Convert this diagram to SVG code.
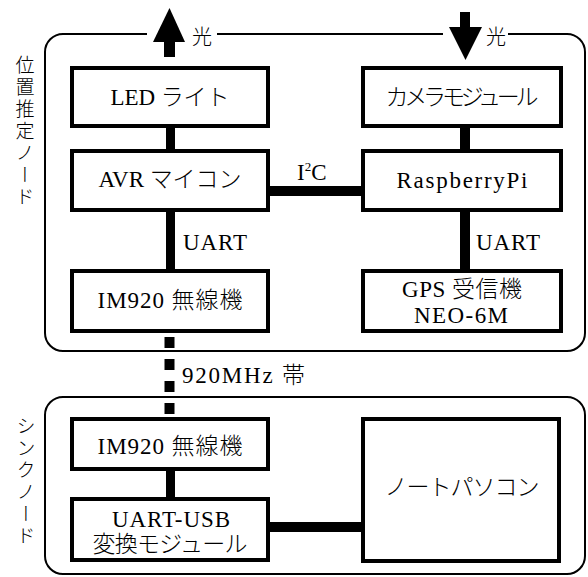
<svg xmlns="http://www.w3.org/2000/svg" width="588" height="577" viewBox="0 0 588 577">
<style>
.frame{fill:none;stroke:#000;stroke-width:2}
.box{fill:#fff;stroke:#000;stroke-width:4}
.t{font-family:'Liberation Serif','Noto Sans CJK JP',serif;font-size:23px;font-weight:300;fill:#000;text-anchor:middle}
.tl{font-family:'Liberation Serif','Noto Sans CJK JP',serif;font-size:23px;font-weight:300;fill:#000}
.hikari{font-family:'Noto Sans CJK JP',sans-serif;font-size:20px;font-weight:300;fill:#000}
.v{font-family:'Noto Sans CJK JP',sans-serif;font-size:19px;font-weight:300;fill:#000;writing-mode:vertical-rl;letter-spacing:3px}
.c{stroke:#000;fill:none}
</style>
<rect width="588" height="577" fill="#fff"/>
<g id="frame-position">
<path class="frame" d="M147,34 H63 A18,18 0 0 0 45,52 V333 A18,18 0 0 0 63,351 H567 A18,18 0 0 0 585,333 V52 A18,18 0 0 0 567,34 H508 M443,34 H217"/>
<text class="v" x="25" y="55">位置推定ノード</text>
</g>
<g id="frame-sink">
<rect class="frame" x="45" y="397" width="540" height="177" rx="18" ry="18"/>
<text class="v" x="26" y="416">シンクノード</text>
</g>
<g id="connectors">
<line class="c" stroke-width="9" x1="170.5" y1="128" x2="170.5" y2="149"/>
<line class="c" stroke-width="10" x1="465" y1="128" x2="465" y2="149"/>
<line class="c" stroke-width="10" x1="270" y1="191" x2="361" y2="191"/>
<line class="c" stroke-width="9" x1="170.5" y1="212" x2="170.5" y2="269"/>
<line class="c" stroke-width="10" x1="465" y1="212" x2="465" y2="269"/>
<line class="c" stroke-width="10" x1="169.5" y1="337" x2="169.5" y2="414" stroke-dasharray="11 11"/>
<line class="c" stroke-width="9" x1="170.5" y1="471" x2="170.5" y2="497"/>
<line class="c" stroke-width="10" x1="270" y1="527" x2="361" y2="527"/>
<text class="tl" x="297" y="180">I<tspan font-size="13" dy="-9">2</tspan><tspan dy="9">C</tspan></text>
<text class="tl" x="183" y="250" textLength="64" lengthAdjust="spacing">UART</text>
<text class="tl" x="476" y="250" textLength="64" lengthAdjust="spacing">UART</text>
<text class="tl" x="182" y="383" textLength="123" lengthAdjust="spacing">920MHz 帯</text>
</g>
<g id="light-out">
<rect x="164" y="41" width="11" height="16" fill="#000"/>
<polygon points="153,42 185,42 169.5,8" fill="#000"/>
<text class="hikari" x="192" y="44">光</text>
</g>
<g id="light-in">
<rect x="460" y="12" width="10" height="16" fill="#000"/>
<polygon points="449,27 482,27 465.5,60" fill="#000"/>
<text class="hikari" x="486" y="44">光</text>
</g>
<g id="led">
<rect class="box" x="72" y="68" width="196" height="58"/>
<text class="t" x="170" y="105" textLength="119" lengthAdjust="spacing">LED ライト</text>
</g>
<g id="avr">
<rect class="box" x="72" y="151" width="196" height="59"/>
<text class="t" x="170" y="187" textLength="143" lengthAdjust="spacing">AVR マイコン</text>
</g>
<g id="camera">
<rect class="box" x="363" y="68" width="198" height="58"/>
<text class="t" x="462" y="105" textLength="153" lengthAdjust="spacing">カメラモジュール</text>
</g>
<g id="raspberrypi">
<rect class="box" x="363" y="151" width="198" height="59"/>
<text class="t" x="462" y="188" textLength="131" lengthAdjust="spacing">RaspberryPi</text>
</g>
<g id="im920-a">
<rect class="box" x="72" y="271" width="196" height="60"/>
<text class="t" x="170" y="308" textLength="145" lengthAdjust="spacing">IM920 無線機</text>
</g>
<g id="gps">
<rect class="box" x="363" y="271" width="198" height="60"/>
<text class="t" x="462" y="297" textLength="120" lengthAdjust="spacing">GPS 受信機</text>
<text class="t" x="461" y="323" textLength="94" lengthAdjust="spacing">NEO-6M</text>
</g>
<g id="im920-b">
<rect class="box" x="72" y="419" width="196" height="50"/>
<text class="t" x="170" y="454" textLength="145" lengthAdjust="spacing">IM920 無線機</text>
</g>
<g id="uart-usb">
<rect class="box" x="72" y="499" width="196" height="61"/>
<text class="t" x="171" y="527" textLength="118" lengthAdjust="spacing">UART-USB</text>
<text class="t" x="170" y="552" textLength="155" lengthAdjust="spacing">変換モジュール</text>
</g>
<g id="notebook">
<rect class="box" x="363" y="419" width="196" height="142"/>
<text class="t" x="462" y="495" textLength="155" lengthAdjust="spacing">ノートパソコン</text>
</g>
</svg>
